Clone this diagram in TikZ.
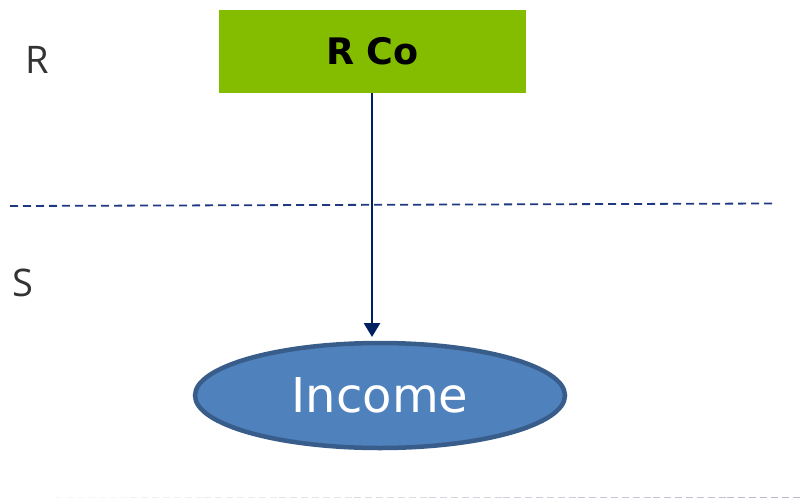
\documentclass[tikz,border=0pt]{standalone}
\usepackage{fontspec}
\setmainfont{DejaVu Sans}
\newfontfamily\labfont{Open Sans}
\usetikzlibrary{arrows.meta,shapes.geometric}
\definecolor{rgreen}{RGB}{132,188,0}
\definecolor{ellfill}{RGB}{79,129,189}
\definecolor{elldraw}{RGB}{56,93,138}
\definecolor{navy}{RGB}{0,32,96}
\definecolor{dashblue}{RGB}{31,56,130}
\definecolor{labgray}{RGB}{51,51,51}
\begin{document}
\begin{tikzpicture}[x=1pt,y=-1pt,
  compbox/.style={rectangle,fill=rgreen,minimum width=307pt,minimum height=83pt,inner sep=0pt,font=\fontsize{36.5}{40}\selectfont\bfseries,text=black},
  incell/.style={ellipse,fill=ellfill,draw=elldraw,line width=4.5pt,minimum width=370pt,minimum height=105pt,inner sep=0pt,font=\fontsize{48}{52}\selectfont,text=white},
  flowarrow/.style={draw=navy,line width=2.8pt,-{Triangle[width=16pt,length=14pt]}},
  sideline/.style={draw=dashblue,line width=1.8pt,dash pattern=on 8pt off 5pt},
  sidelab/.style={font=\labfont\fontsize{38}{42}\selectfont,text=labgray,inner sep=0pt}]
\useasboundingbox (0,0) rectangle (802,498);
\node[compbox] (rco) at (372.5,51.5) {R Co};
\node[incell] (inc) at (380,395.5) {Income};
\coordinate (dl) at (10,206);
\coordinate (dr) at (772,203.5);
\draw[sideline] (dl) -- (dr);
\coordinate (ah) at (372,337);
\draw[flowarrow] (rco.south -| ah) -- (ah);
\node[sidelab] (lr) at (37,60) {R};
\node[sidelab] (ls) at (23,283) {S};
\foreach \i in {0,...,9}{
  \pgfmathsetmacro{\op}{0.05+\i*0.04}
  \draw[draw=dashblue!50!gray,opacity=\op,line width=1pt,dash pattern=on 7pt off 4pt] (55+\i*74.7,497) -- (55+\i*74.7+74.7,497);
}
\end{tikzpicture}
\end{document}
